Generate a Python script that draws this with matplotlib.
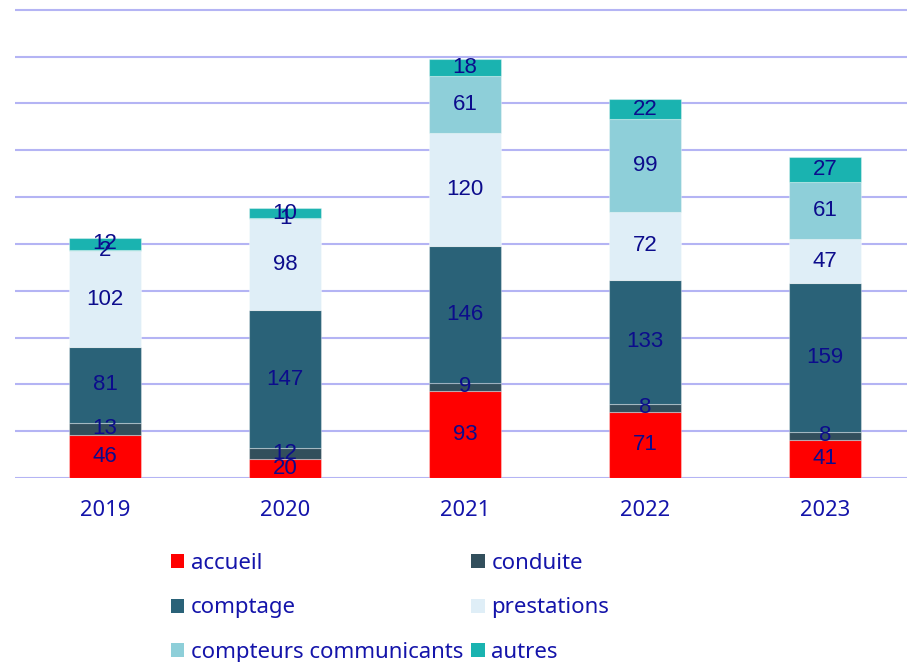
import matplotlib
matplotlib.use("Agg")
import matplotlib.pyplot as plt
from matplotlib.patches import Patch
import numpy as np

years = ["2019", "2020", "2021", "2022", "2023"]
series = ["accueil", "conduite", "comptage", "prestations",
          "compteurs communicants", "autres"]
accueil = [46, 20, 93, 71, 41]
conduite = [13, 12, 9, 8, 8]
comptage = [81, 147, 146, 133, 159]
prestations = [102, 98, 120, 72, 47]
compteurs = [2, 1, 61, 99, 61]
autres = [12, 10, 18, 22, 27]
colors = ["#ff0000", "#324f5c", "#2a6278", "#dfeef7", "#8ecfd9", "#1ab3b0"]

values = [accueil, conduite, comptage, prestations, compteurs, autres]

fig = plt.figure(figsize=(9.07, 6.62), dpi=100)
ax = fig.add_axes([15 / 907, (662 - 478) / 662, 900 / 907, 470 / 662])

x = np.arange(len(years))
bottom = np.zeros(len(years))
for name, vals, col in zip(series, values, colors):
    bars = ax.bar(x, vals, 0.4, bottom=bottom, color=col, label=name,
                  edgecolor=(1, 1, 1, 0.35), linewidth=0.8, zorder=3)
    for xi, b, v in zip(x, bottom, vals):
        ax.text(xi, b + v / 2, str(v), ha="center", va="center",
                fontsize=16, color="#0c0c8c", family="Liberation Sans",
                zorder=4)
    bottom += np.array(vals)

ax.set_xlim(-0.5, 4.5)
ax.set_ylim(0, 502)
ax.set_yticks(np.arange(0, 501, 50))
ax.yaxis.grid(True, color="#b4b4f4", linewidth=1.5, zorder=0)
ax.tick_params(axis="y", left=False, labelleft=False)
ax.tick_params(axis="x", length=0, pad=16, labelsize=15.8, labelcolor="#1414aa")
ax.set_xticks(x)
ax.set_xticklabels(years, family="Noto Sans")
for s in ax.spines.values():
    s.set_visible(False)

# legend in row order: two columns
order = [0, 2, 4, 1, 3, 5]
handles = [Patch(facecolor=colors[i], label=series[i]) for i in order]
leg = fig.legend(handles=handles, ncol=2, loc="upper left",
                 bbox_to_anchor=(160 / 907, 1 - 542 / 662), frameon=False,
                 prop={"family": "Noto Sans", "size": 16},
                 handlelength=0.6, handleheight=0.6, handletextpad=0.3,
                 columnspacing=0.35, labelspacing=1.05, borderpad=0)
for t in leg.get_texts():
    t.set_color("#1414aa")

fig.savefig("out.png", dpi=100)
